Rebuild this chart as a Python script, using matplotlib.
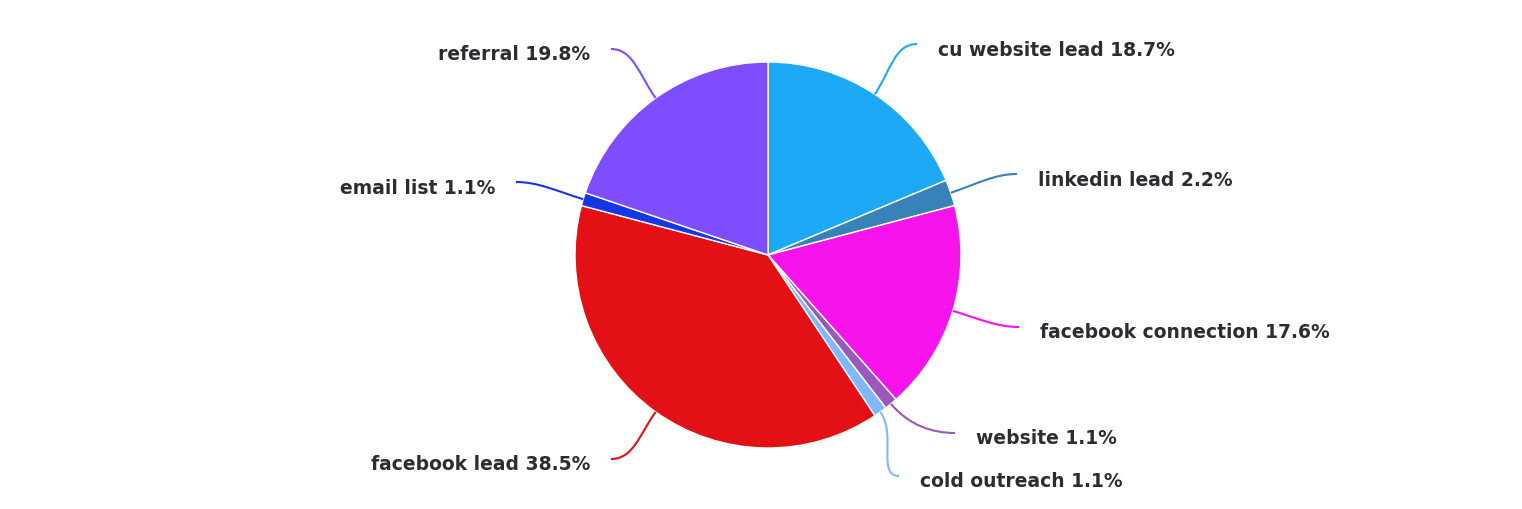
import numpy as np
import matplotlib
matplotlib.use("Agg")
import matplotlib.pyplot as plt
from matplotlib.path import Path
from matplotlib.patches import PathPatch

# data
labels = ["cu website lead", "linkedin lead", "facebook connection", "website",
          "cold outreach", "facebook lead", "email list", "referral"]
values = [18.7, 2.2, 17.6, 1.1, 1.1, 38.5, 1.1, 19.8]
colors = ["#1ea9f6", "#3782b9", "#f613ec", "#9c58bc", "#80b7ff",
          "#e31016", "#1536e4", "#7e4efe"]

# label anchor (end of leader line) in pixel coords
label_pos = [(917, 45), (1017, 175), (1019, 328), (955, 434),
             (899, 477), (611, 460), (516, 183), (611, 50)]

W, H = 1522, 510
cx, cy, R = 768, 256, 193

fig = plt.figure(figsize=(W / 100, H / 100), dpi=100)
ax = fig.add_axes([0, 0, 1, 1])
ax.axis("off")

wedges, _ = ax.pie(values, colors=colors, startangle=90, counterclock=False,
                   center=(cx, H - cy), radius=R,
                   wedgeprops=dict(edgecolor="white", linewidth=1))
ax.set_xlim(0, W)
ax.set_ylim(0, H)

for w, lab, val, col, (px, py) in zip(wedges, labels, values, colors, label_pos):
    ang = np.deg2rad((w.theta1 + w.theta2) / 2)
    dx, dy = np.cos(ang), np.sin(ang)
    x0, y0 = cx + R * dx, H - cy + R * dy
    ex, ey = px, H - py
    right = ex > cx
    d = 28
    c1 = (x0 + dx * d, y0 + dy * d)
    c2 = (ex - d * 0.8 if right else ex + d * 0.8, ey)
    path = Path([(x0, y0), c1, c2, (ex, ey)],
                [Path.MOVETO, Path.CURVE4, Path.CURVE4, Path.CURVE4])
    ax.add_patch(PathPatch(path, fill=False, edgecolor=col, linewidth=1.5))
    tx = ex + 21 if right else ex - 21
    ax.text(tx, ey - 5, f"{lab} {val}%", ha="left" if right else "right",
            va="center", fontsize=13.5, fontweight="bold", family="DejaVu Sans",
            color="#2b2d33")

fig.savefig("out.png", dpi=100)
